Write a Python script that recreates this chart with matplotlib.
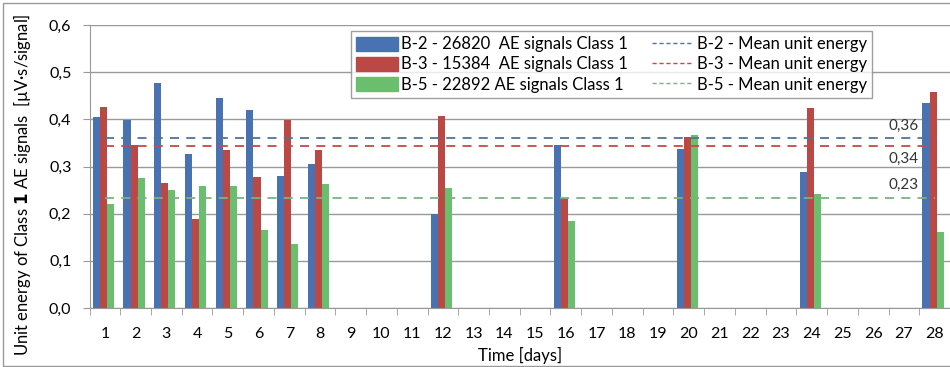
import matplotlib
matplotlib.use("Agg")
from matplotlib import pyplot as plt
from matplotlib.patches import Patch, Rectangle
from matplotlib.lines import Line2D
import numpy as np

plt.rcParams['font.family'] = ['Lato', 'DejaVu Sans']

# measurement days and unit energy per specimen
days = [1, 2, 3, 4, 5, 6, 7, 8, 12, 16, 20, 24, 28]
b2 = [0.405, 0.399, 0.478, 0.327, 0.446, 0.420, 0.279, 0.305, 0.200, 0.345, 0.338, 0.289, 0.435]
b3 = [0.426, 0.345, 0.264, 0.189, 0.335, 0.277, 0.399, 0.336, 0.407, 0.233, 0.362, 0.424, 0.457]
b5 = [0.221, 0.275, 0.251, 0.259, 0.259, 0.165, 0.135, 0.262, 0.255, 0.185, 0.367, 0.242, 0.162]

means = [0.36, 0.343, 0.234]
mean_text = ['0,36', '0,34', '0,23']
series_names = ['B-2 - 26820  AE signals Class 1',
                'B-3 - 15384  AE signals Class 1',
                'B-5 - 22892 AE signals Class 1']
mean_names = ['B-2 - Mean unit energy',
              'B-3 - Mean unit energy',
              'B-5 - Mean unit energy']
colors = ['#4872B2', '#BA4845', '#6ABF6E']
line_colors = ['#4F7594', '#C8494A', '#7DB282']

fig = plt.figure(figsize=(9.5, 3.67), dpi=100)
ax = fig.add_axes([89.5 / 950, 1 - 308 / 367, 1 - 89.5 / 950, (308 - 25) / 367])

x = np.array(days, dtype=float)
w = 0.23
for i, vals in enumerate([b2, b3, b5]):
    ax.bar(x + (i - 1) * w - 0.05, vals, width=w, color=colors[i], zorder=2)

# mean lines across the full period
for i, m in enumerate(means):
    ax.plot([1, 28], [m, m], ls=(0, (5, 4)), color=line_colors[i], lw=1.3, zorder=3)

ax.text(27.0, 0.36 + 0.012, mean_text[0], ha='center', va='bottom', fontsize=11, color='#333333')
ax.text(27.0, 0.343 - 0.012, mean_text[1], ha='center', va='top', fontsize=11, color='#333333')
ax.text(27.0, 0.234 + 0.012, mean_text[2], ha='center', va='bottom', fontsize=11, color='#333333')

ax.set_xlim(0.5, 0.5 + (950 - 89.5) / 30.93)
ax.set_ylim(0, 0.6)
ax.set_yticks(np.arange(0, 0.61, 0.1))
ax.set_yticklabels([f'{v:.1f}'.replace('.', ',') for v in np.arange(0, 0.61, 0.1)], fontsize=11.5)
ax.set_xticks(range(1, 29))
ax.set_xticklabels([str(d) for d in range(1, 29)], fontsize=11.5)
ax.set_xticks(np.arange(0.5, 29, 1), minor=True)
ax.tick_params(axis='x', which='major', length=0, pad=14)
ax.tick_params(axis='x', which='minor', length=5, color='#999999', direction='out')
ax.tick_params(axis='y', length=5, color='#999999', pad=8)
ax.grid(axis='y', color='#999999', lw=1, zorder=0)
for s in ['top', 'right']:
    ax.spines[s].set_visible(False)
ax.spines['left'].set_color('#999999')
ax.spines['bottom'].set_color('#999999')

ax.set_xlabel('Time [days]', fontsize=12, labelpad=4)
ax.set_ylabel(r'Unit energy of Class $\mathbf{1}$ AE signals  [µV·s/signal]', fontsize=12)
ax.yaxis.set_label_coords((33 - 89.5) / 860.5, (308 - 185) / 283)

handles = [Patch(color=c) for c in colors] + \
          [Line2D([], [], color=c, ls=(0, (3, 2)), lw=1) for c in line_colors]
leg = fig.legend(handles, series_names + mean_names, ncol=2, loc='upper left',
                 bbox_to_anchor=(343 / 950, 1 - 23 / 367), fontsize=12,
                 frameon=True, fancybox=False, handlelength=2.5, handleheight=0.9,
                 handletextpad=0.2, labelspacing=0.25, columnspacing=1.4, borderpad=0.3)
leg.get_frame().set_edgecolor('#888888')
leg.get_frame().set_linewidth(1)

# outer chart border
fig.patches.append(Rectangle((3 / 950, 1 / 367), 1.1, 1 - 4 / 367, transform=fig.transFigure,
                             fill=False, edgecolor='#999999', lw=1))

fig.savefig('out.png', dpi=100)
